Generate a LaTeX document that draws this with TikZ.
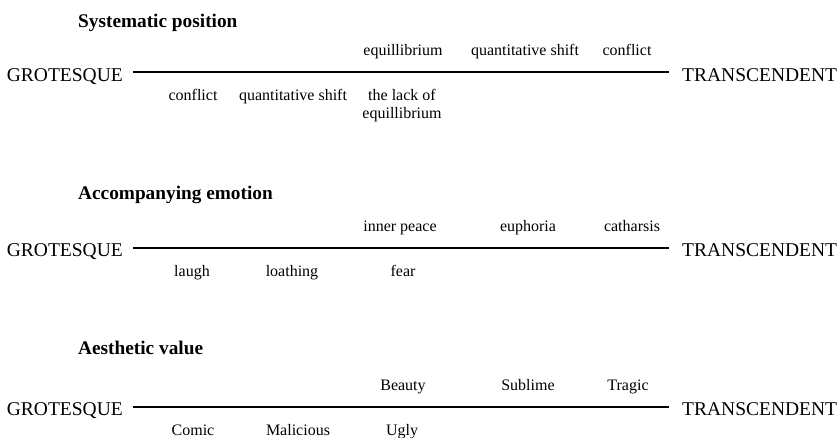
\documentclass[tikz,border=0pt]{standalone}
\usepackage{fontspec}
\setmainfont{Liberation Serif}
\begin{document}
\begin{tikzpicture}[
    x = 1pt, y = -1pt,
    pole/.style = {font = \fontsize{19.5}{20}\selectfont, text height = 18pt, text depth = 0pt, inner ysep = 0pt, inner xsep = 10pt},
    ttl/.style = {font = \fontsize{19.3}{20}\selectfont\bfseries, anchor = base west, inner sep = 0pt},
    lbl/.style = {font = \fontsize{16}{17.3}\selectfont, anchor = base, inner sep = 0pt, align = center},
    axis/.style = {draw, line width = 2pt},
  ]
  \useasboundingbox (0,0) rectangle (840,437);
  \foreach \i/\y/\h/\ty in {1/72/Systematic position/27, 2/247.5/Accompanying emotion/199.3, 3/406.5/Aesthetic value/354.3} {
    \node[ttl] (h\i) at (78,\ty) {\h};
    \node[pole, anchor = east] (g\i) at (133,\y) {GROTESQUE};
    \node[pole, anchor = west, inner xsep = 13pt] (t\i) at (669,\y) {TRANSCENDENT};
    \draw[axis] (g\i) -- (t\i);
  }
  % systematic position
  \node[lbl] (up11) at (403,55.5) {equillibrium};
  \node[lbl] (up12) at (525,55.5) {quantitative shift};
  \node[lbl] (up13) at (627,55.5) {conflict};
  \node[lbl] (dn11) at (193,100.5) {conflict};
  \node[lbl] (dn12) at (293,100.5) {quantitative shift};
  \node[lbl] (dn13) at (402,118) {the lack of\\equillibrium};
  % accompanying emotion
  \node[lbl] (up21) at (400,231) {inner peace};
  \node[lbl] (up22) at (528,231) {euphoria};
  \node[lbl] (up23) at (632,231) {catharsis};
  \node[lbl] (dn21) at (192,276) {laugh};
  \node[lbl] (dn22) at (292,276) {loathing};
  \node[lbl] (dn23) at (403,276) {fear};
  % aesthetic value
  \node[lbl] (up31) at (403,390) {Beauty};
  \node[lbl] (up32) at (528,390) {Sublime};
  \node[lbl] (up33) at (628,390) {Tragic};
  \node[lbl] (dn31) at (193,435) {Comic};
  \node[lbl] (dn32) at (298,435) {Malicious};
  \node[lbl] (dn33) at (402,435) {Ugly};
\end{tikzpicture}
\end{document}
